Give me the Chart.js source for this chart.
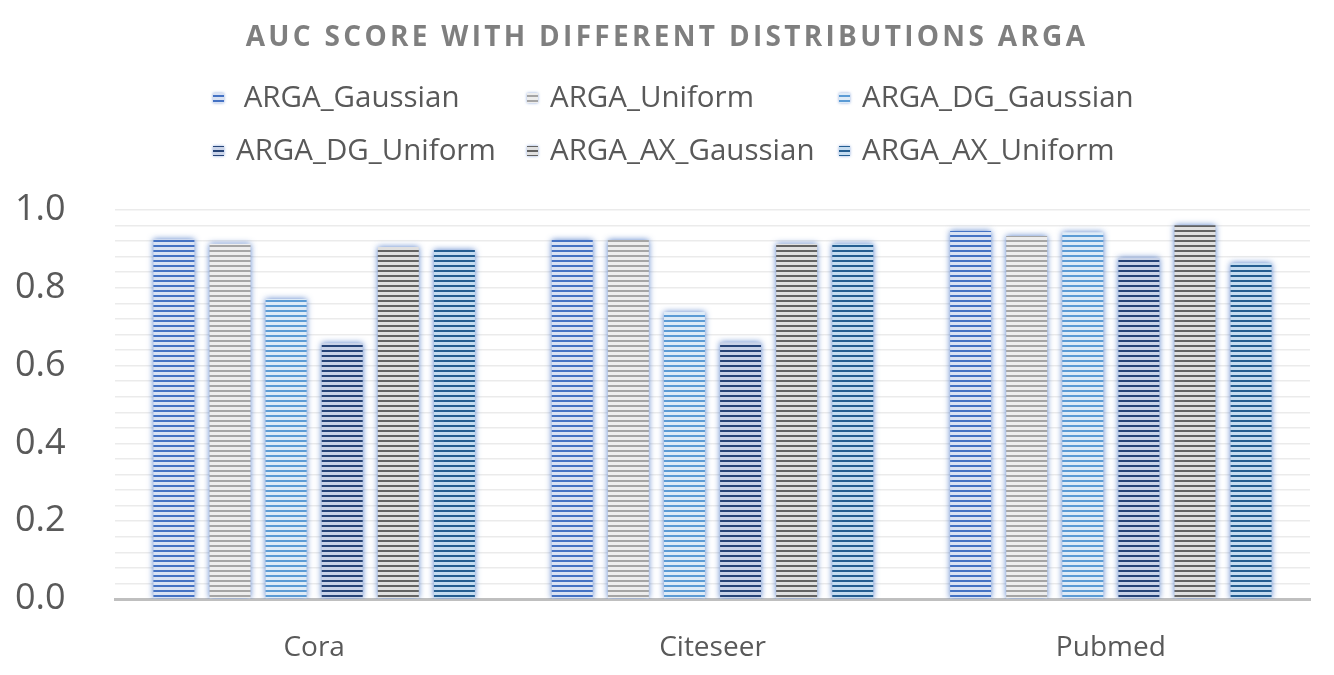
<!DOCTYPE html>
<html>
<head>
<meta charset="utf-8">
<script src="https://cdn.jsdelivr.net/npm/chart.js@4"></script>
<style>
  html, body { margin: 0; padding: 0; background: #fff; }
  #wrap { width: 1334px; height: 675px; }
</style>
</head>
<body>
<div id="wrap"><canvas id="aucChart"></canvas></div>
<script>
// categories and series values
const categories = ['Cora', 'Citeseer', 'Pubmed'];
const seriesNames = [' ARGA_Gaussian', 'ARGA_Uniform', 'ARGA_DG_Gaussian',
                     'ARGA_DG_Uniform', 'ARGA_AX_Gaussian', 'ARGA_AX_Uniform'];
const argaGaussian   = [0.925, 0.923, 0.946];
const argaUniform    = [0.913, 0.923, 0.933];
const argaDgGaussian = [0.771, 0.738, 0.943];
const argaDgUniform  = [0.658, 0.660, 0.877];
const argaAxGaussian = [0.905, 0.913, 0.961];
const argaAxUniform  = [0.897, 0.913, 0.864];
const yTickLabels = ['0.0', '0.2', '0.4', '0.6', '0.8', '1.0'];

const chartTitle = 'AUC SCORE WITH DIFFERENT DISTRIBUTIONS ARGA';

// stripe colours: [line colour, light colour]
const stripeColors = [
  ['#4472C4', '#D9E2F3'],
  ['#A5A5A5', '#EDEDED'],
  ['#5B9BD5', '#DEEBF7'],
  ['#264478', '#C9D3E8'],
  ['#636363', '#E0E0E0'],
  ['#255E91', '#C5DCF0']
];

// horizontal stripe pattern like Excel's "narrow horizontal"
function makeStripes(dark, light) {
  const c = document.createElement('canvas');
  c.width = 4; c.height = 5;
  const g = c.getContext('2d');
  g.fillStyle = light;
  g.fillRect(0, 0, 4, 5);
  g.fillStyle = dark;
  g.fillRect(0, 0, 4, 2);
  return g.createPattern(c, 'repeat');
}

const allValues = [argaGaussian, argaUniform, argaDgGaussian, argaDgUniform, argaAxGaussian, argaAxUniform];

const datasets = allValues.map((vals, i) => ({
  label: seriesNames[i],
  data: vals,
  backgroundColor: makeStripes(stripeColors[i][0], stripeColors[i][1]),
  borderWidth: 0,
  barPercentage: 0.73,
  categoryPercentage: 0.845
}));

// draws title + 3-column legend, and a soft glow around bars
const decorPlugin = {
  id: 'decor',
  beforeDatasetsDraw(chart) {
    const ctx = chart.ctx;
    ctx.save();
    ctx.shadowColor = 'rgba(68,114,196,0.9)';
    ctx.shadowBlur = 6;
  },
  afterDatasetsDraw(chart) {
    chart.ctx.restore();
  },
  afterDraw(chart) {
    const ctx = chart.ctx;
    ctx.save();
    // title
    ctx.font = 'bold 28px "Open Sans"';
    ctx.letterSpacing = '3.3px';
    ctx.fillStyle = '#7F7F7F';
    ctx.textAlign = 'center';
    ctx.textBaseline = 'middle';
    ctx.fillText(chartTitle, 667, 38);
    ctx.letterSpacing = '0px';

    // legend
    const colX = [213, 527, 839];
    const rowY = [98, 151];
    ctx.font = '29.5px "Open Sans"';
    ctx.textAlign = 'left';
    chart.data.datasets.forEach((ds, i) => {
      const x = colX[i % 3];
      const y = rowY[Math.floor(i / 3)];
      ctx.fillStyle = ds.backgroundColor;
      ctx.shadowColor = 'rgba(68,114,196,0.6)';
      ctx.shadowBlur = 3;
      ctx.fillRect(x, y - 5, 11, 10);
      ctx.shadowBlur = 0;
      ctx.fillStyle = '#595959';
      ctx.fillText(ds.label, x + 23, y + 1);
    });
    ctx.restore();
  }
};

new Chart(document.getElementById('aucChart'), {
  type: 'bar',
  data: { labels: categories, datasets: datasets },
  plugins: [decorPlugin],
  options: {
    responsive: true,
    maintainAspectRatio: false,
    animation: false,
    layout: { padding: { top: 210, left: 15, right: 24, bottom: 0 } },
    plugins: {
      legend: { display: false },
      title: { display: false },
      tooltip: { enabled: false }
    },
    scales: {
      x: {
        afterFit(scale) { scale.height = 76; },
        grid: { display: false },
        border: { color: '#BFBFBF', width: 3 },
        ticks: { color: '#595959', font: { family: 'Open Sans', size: 28 }, padding: 24 }
      },
      y: {
        min: 0,
        max: 1,
        afterFit(scale) { scale.width = 100; },
        border: { display: false },
        grid: { color: '#EBEBEB', lineWidth: 1.5, drawTicks: false },
        ticks: {
          stepSize: 0.04,
          autoSkip: false,
          crossAlign: 'far',
          color: '#595959',
          font: { family: 'Open Sans', size: 36 },
          callback(value) {
            const k = Math.round(value * 100);
            return k % 20 === 0 ? yTickLabels[k / 20] : '';
          }
        }
      }
    }
  }
});
</script>
</body>
</html>
